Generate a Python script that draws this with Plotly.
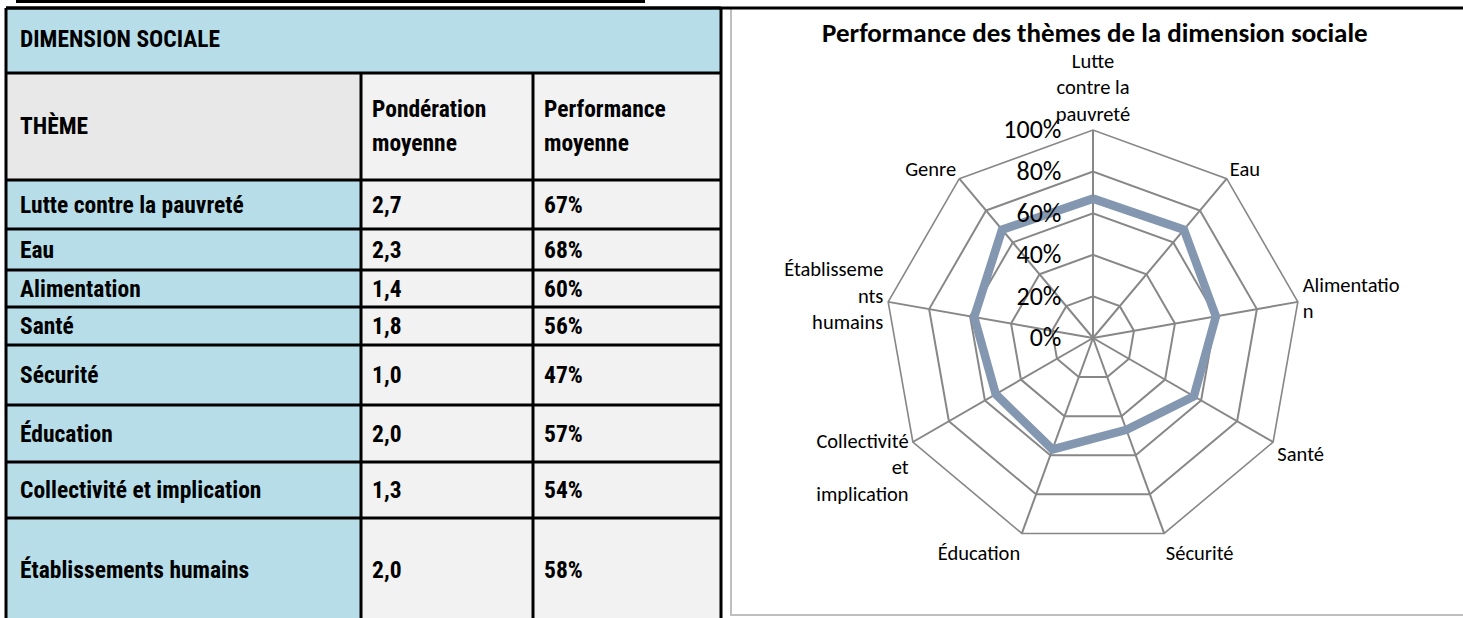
import plotly.graph_objects as go

# ---------------- data ----------------
table_title = "DIMENSION SOCIALE"
header_labels = ["THÈME", "Pondération<br>moyenne", "Performance<br>moyenne"]
themes = ["Lutte contre la pauvreté", "Eau", "Alimentation", "Santé", "Sécurité",
          "Éducation", "Collectivité et implication", "Établissements humains"]
ponderation = [2.7, 2.3, 1.4, 1.8, 1.0, 2.0, 1.3, 2.0]
performance = [67, 68, 60, 56, 47, 57, 54, 58]

chart_title = "Performance des thèmes de la dimension sociale"
radar_categories = ["Lutte<br>contre la<br>pauvreté", "Eau", "Alimentatio<br>n", "Santé",
                    "Sécurité", "Éducation", "Collectivité<br>et<br>implication",
                    "Établisseme<br>nts<br>humains", "Genre"]
radar_values = [0.67, 0.68, 0.60, 0.56, 0.47, 0.57, 0.54, 0.58, 0.68]
radial_ticks = [0, 0.2, 0.4, 0.6, 0.8, 1.0]
radial_ticktext = ["0%", "20%", "40%", "60%", "80%", "100%"]

# ---------------- layout helpers ----------------
W, H = 1463, 618
def px(x):
    return x / W
def py(y):
    return 1 - y / H

TABLE_FONT = "Liberation Sans Narrow, Arial Narrow, Roboto Condensed, Arial, sans-serif"
CHART_FONT = "Carlito, Calibri, Lato, sans-serif"
BLUE = "#B7DEE8"
GRAY_HDR = "#E8E8E8"
GRAY = "#F2F2F2"
GRID = "#878787"

col_x = [6, 361, 533, 721]
row_y = [8, 73, 180, 229, 270, 307, 345, 405, 462, 518, 622]

shapes = []
annotations = []

def rect(x0, y0, x1, y1, fill, line_color=None, lw=0):
    shapes.append(dict(type="rect", xref="paper", yref="paper",
                       x0=px(x0), x1=px(x1), y0=py(y1), y1=py(y0),
                       fillcolor=fill, line=dict(width=lw, color=line_color or fill),
                       layer="below"))

def line(x0, y0, x1, y1, color="black", lw=3):
    shapes.append(dict(type="line", xref="paper", yref="paper",
                       x0=px(x0), x1=px(x1), y0=py(y0), y1=py(y1),
                       line=dict(color=color, width=lw)))

def text(x, y, s, size=23.5, bold=True, color="black", anchor="left", family=TABLE_FONT):
    annotations.append(dict(xref="paper", yref="paper", x=px(x), y=py(y), text=(f"<b>{s}</b>" if bold else s),
                            showarrow=False, xanchor=anchor, yanchor="middle",
                            font=dict(family=family, size=size, color=color)))

# table backgrounds
rect(col_x[0], row_y[0], col_x[3], row_y[1], BLUE)
rect(col_x[0], row_y[1], col_x[1], row_y[2], GRAY_HDR)
rect(col_x[1], row_y[1], col_x[3], row_y[2], GRAY)
for i in range(len(themes)):
    rect(col_x[0], row_y[i + 2], col_x[1], row_y[i + 3], BLUE)
    rect(col_x[1], row_y[i + 2], col_x[3], row_y[i + 3], GRAY)

# chart frame
shapes.append(dict(type="rect", xref="paper", yref="paper", x0=px(731), x1=px(1475),
                   y0=py(615), y1=py(8), line=dict(color="#BFBFBF", width=2),
                   fillcolor="white", layer="below"))

# table grid lines
for y in row_y[:-1]:
    line(col_x[0], y, col_x[3], y)
line(col_x[0], row_y[0], col_x[0], row_y[-1])
line(col_x[3], row_y[0], col_x[3], row_y[-1])
for x in col_x[1:3]:
    line(x, row_y[1], x, row_y[-1])
# top heavy rule across page and heading underline
line(col_x[0], 8, W, 8)
line(16, 1.5, 645, 1.5)

# table texts
text(col_x[0] + 12, (row_y[0] + row_y[1]) / 2 - 2, table_title)
hy = (row_y[1] + row_y[2]) / 2
text(col_x[0] + 12, hy, header_labels[0])
for j, lab in enumerate(header_labels[1:]):
    l1, l2 = lab.split("<br>")
    text(col_x[j + 1] + 9, hy - 18, l1)
    text(col_x[j + 1] + 9, hy + 17, l2)
for i, th in enumerate(themes):
    yc = (row_y[i + 2] + row_y[i + 3]) / 2
    text(col_x[0] + 12, yc, th)
    text(col_x[1] + 9, yc, f"{ponderation[i]:.1f}".replace(".", ","))
    text(col_x[2] + 9, yc, f"{performance[i]}%")

# chart title
annotations.append(dict(xref="paper", yref="paper", x=px(1095), y=py(33), text=f"<b>{chart_title}</b>",
                        showarrow=False, xanchor="center", yanchor="middle",
                        font=dict(family=CHART_FONT, size=27, color="black")))

fig = go.Figure()
fig.add_trace(go.Scatterpolar(
    r=radar_values + [radar_values[0]],
    theta=radar_categories + [radar_categories[0]],
    mode="lines", line=dict(color="#8497B0", width=8.5),
    showlegend=False, hoverinfo="skip"))

cx, cy, R = 1093, 338, 208
fig.update_layout(
    width=W, height=H, margin=dict(l=0, r=0, t=0, b=0),
    paper_bgcolor="white", plot_bgcolor="white", template="none",
    showlegend=False,
    shapes=shapes, annotations=annotations,
    polar=dict(
        domain=dict(x=[px(cx - R), px(cx + R)], y=[py(cy + R), py(cy - R)]),
        bgcolor="white",
        gridshape="linear",
        radialaxis=dict(range=[0, 1], tickvals=radial_ticks, ticktext=radial_ticktext,
                        angle=90, tickangle=90, side="counterclockwise",
                        showline=False, gridcolor=GRID, gridwidth=1.6,
                        ticks="outside", ticklen=22, tickcolor="rgba(0,0,0,0)",
                        tickfont=dict(family=CHART_FONT, size=26, color="black")),
        angularaxis=dict(direction="clockwise", rotation=90, type="category",
                         showline=True, linecolor=GRID, linewidth=1.6,
                         gridcolor=GRID, gridwidth=1.6, ticks="",
                         tickfont=dict(family=CHART_FONT, size=20.5, color="black")),
    ),
)

fig.write_html("out.html", config={"displayModeBar": False},
               post_script="document.body.style.margin='0';document.body.style.overflow='hidden';")
